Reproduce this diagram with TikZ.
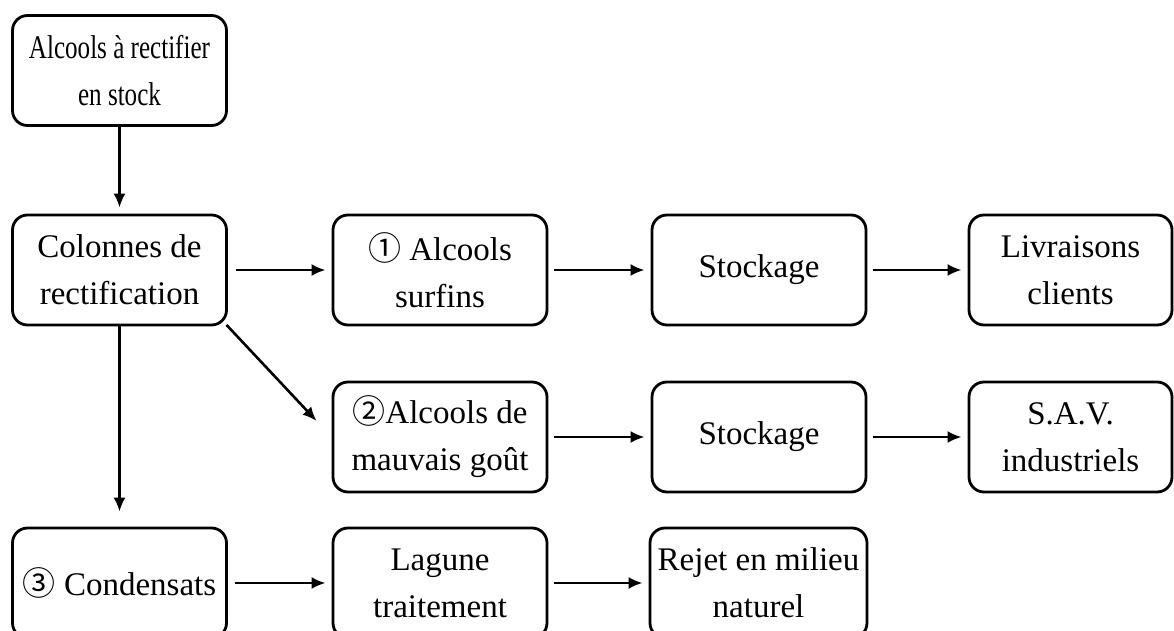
\documentclass[tikz,border=0pt]{standalone}
\usepackage{fontspec}
\setmainfont{Liberation Serif}
\newfontfamily\circfont{Noto Sans CJK SC}
\newfontfamily\narrowfont{Liberation Serif}[FakeStretch=0.76]
\newcommand{\circnum}[1]{{\circfont\fontsize{33}{47}\selectfont #1}}
\usepackage{tikz}
\usetikzlibrary{arrows.meta,positioning}

\begin{document}
\begin{tikzpicture}[x=1pt,y=-1pt,
    box/.style={draw, rounded corners=15pt, line width=2.8pt, minimum width=214pt,
        minimum height=110pt, inner sep=2pt, align=center,
        font=\fontsize{33}{47}\selectfont},
    arr/.style={line width=2.6pt, -{Latex[length=14pt,width=12pt]}}]
        \useasboundingbox (0,0) rectangle (1174,631);
        \clip (0,0) rectangle (1174,631);

        \node[box] (stock) at (119.5,70.5) {\narrowfont Alcools à rectifier\\\narrowfont en stock};
        \node[box] (colonnes) at (119.5,270) {Colonnes de\\rectification};
        \node[box] (surfins) at (440,270) {\circnum{①} Alcools\\surfins};
        \node[box] (stockage1) at (759,270) {Stockage};
        \node[box, minimum width=203pt] (livraisons) at (1070.5,270) {Livraisons\\clients};

        \node[box] (mauvais) at (440,437) {\circnum{②}Alcools de\\mauvais goût};
        \node[box] (stockage2) at (759,437) {Stockage};
        \node[box, minimum width=203pt] (sav) at (1070.5,437) {S.A.V.\\industriels};

        \node[box] (condensats) at (119.5,583) {\circnum{③} Condensats};
        \node[box] (lagune) at (440,583) {Lagune\\traitement};
        \node[box, minimum width=217pt] (rejet) at (758.5,583) {Rejet en milieu\\naturel};

        \draw[arr, shorten >=6pt] (stock) -- (colonnes);
        \draw[arr, shorten >=15pt] (colonnes) -- (condensats);
        \draw[arr, shorten <=-2pt, shorten >=22pt] (colonnes.south east) -- (mauvais.west);

        \draw[arr, shorten <=8pt, shorten >=6pt] (colonnes) -- (surfins);
        \draw[arr, shorten <=6pt, shorten >=6pt] (surfins) -- (stockage1);
        \draw[arr, shorten <=6pt, shorten >=6pt] (stockage1) -- (livraisons);

        \draw[arr, shorten <=6pt, shorten >=6pt] (mauvais) -- (stockage2);
        \draw[arr, shorten <=6pt, shorten >=6pt] (stockage2) -- (sav);

        \draw[arr, shorten <=7pt, shorten >=6pt] (condensats) -- (lagune);
        \draw[arr, shorten <=6pt, shorten >=6pt] (lagune) -- (rejet);
\end{tikzpicture}
\end{document}
